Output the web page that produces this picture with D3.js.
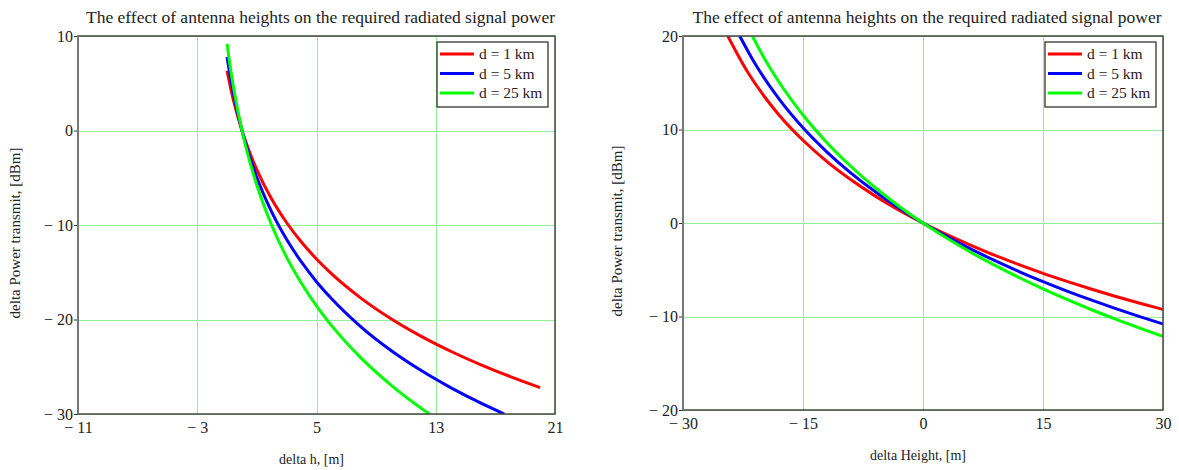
<!DOCTYPE html>
<html>
<head>
<meta charset="utf-8">
<script src="https://cdn.jsdelivr.net/npm/d3@7"></script>
<style>
  body { margin: 0; background: #fff; }
  svg text { font-family: "Liberation Serif", "Times New Roman", serif !important; fill: #222; }
</style>
</head>
<body>
<svg id="drawing_region"></svg>
<script>
const chartTitle = "The effect of antenna heights on the required radiated signal power";
const legendLabels = ["d = 1 km", "d = 5 km", "d = 25 km"];
const yLabel = "delta Power transmit, [dBm]";

// left chart: delta h
const leftXLabel = "delta h, [m]";
const leftXTicks = [-11, -3, 5, 13, 21];
const leftYTicks = [10, 0, -10, -20, -30];
const left1kmX = [-1, -0.75, -0.5, 0, 0.5, 1, 2, 3, 4, 5, 6, 8, 10, 12, 14, 16, 18, 20];
const left1kmY = [6.32, 4.41, 2.76, 0, -2.26, -4.16, -7.28, -9.76, -11.83, -13.60, -15.15, -17.76, -19.92, -21.76, -23.36, -24.77, -26.04, -27.20];
const left5kmX = [-1, -0.75, -0.5, 0, 0.5, 1, 2, 3, 4, 5, 6, 8, 10, 12, 14, 16, 17.6];
const left5kmY = [7.77, 5.39, 3.36, 0, -2.71, -4.97, -8.64, -11.54, -13.94, -16.00, -17.78, -20.80, -23.28, -25.38, -27.21, -28.83, -30.0];
const left25kmX = [-1, -0.75, -0.5, 0, 0.5, 1, 2, 3, 4, 5, 6, 8, 10, 12, 12.6];
const left25kmY = [9.17, 6.34, 3.94, 0, -3.16, -5.80, -10.05, -13.42, -16.19, -18.56, -20.62, -24.09, -26.94, -29.36, -30.02];

// right chart: delta Height
const rightXLabel = "delta Height, [m]";
const rightXTicks = [-30, -15, 0, 15, 30];
const rightYTicks = [20, 10, 0, -10, -20];
const right1kmX = [-24.4, -22, -20, -18, -15, -12, -9, -6, -3, 0, 3, 6, 9, 12, 15, 18, 21, 24, 27, 30];
const right1kmY = [20.0, 16.26, 13.72, 11.56, 8.85, 6.57, 4.62, 2.90, 1.38, 0, -1.25, -2.40, -3.47, -4.45, -5.38, -6.24, -7.06, -7.83, -8.56, -9.25];
const right5kmX = [-22.9, -21, -18, -15, -12, -9, -6, -3, 0, 3, 6, 9, 12, 15, 18, 21, 24, 27, 30];
const right5kmY = [19.99, 17.05, 13.27, 10.18, 7.59, 5.34, 3.36, 1.60, 0, -1.46, -2.80, -4.03, -5.19, -6.27, -7.28, -8.23, -9.13, -9.99, -10.80];
const right25kmX = [-21.3, -20, -18, -15, -12, -9, -6, -3, 0, 3, 6, 9, 12, 15, 18, 21, 24, 27, 30];
const right25kmY = [19.95, 17.87, 15.08, 11.55, 8.59, 6.04, 3.80, 1.80, 0, -1.64, -3.15, -4.54, -5.83, -7.04, -8.17, -9.25, -10.26, -11.21, -12.12];

const seriesColors = ["#ff0000", "#0000ff", "#00ff00"];

function zip(xs, ys) { return xs.map((x, i) => ({ x: x, y: ys[i] })); }

class LinePlot {
    constructor(config, series) {
        this.config = config;
        this.series = series;
        this.init();
    }

    init() {
        let self = this;
        const c = self.config;
        self.chart = d3.select('#drawing_region').append('g')
            .attr('transform', `translate(${c.left}, ${c.top})`);
        self.inner_width = c.width;
        self.inner_height = c.height;

        self.xscale = d3.scaleLinear()
            .domain([c.xTicks[0], c.xTicks[c.xTicks.length - 1]])
            .range([0, self.inner_width]);
        self.yscale = d3.scaleLinear()
            .domain([c.yTicks[c.yTicks.length - 1], c.yTicks[0]])
            .range([self.inner_height, 0]);
    }

    render() {
        let self = this;
        const c = self.config;
        const fmt = d => d < 0 ? "\u2212 " + Math.abs(d) : String(d);
        const serif = '"Liberation Serif", serif';

        // grid
        const xgrid = d3.axisBottom(self.xscale).tickValues(c.xTicks)
            .tickSize(-self.inner_height).tickFormat('');
        const ygrid = d3.axisLeft(self.yscale).tickValues(c.yTicks)
            .tickSize(-self.inner_width).tickFormat('');
        self.chart.append('g').attr('transform', `translate(0, ${self.inner_height})`)
            .call(xgrid).call(g => g.select('.domain').remove())
            .selectAll('line').attr('stroke', '#94f094').attr('shape-rendering', 'crispEdges');
        self.chart.append('g')
            .call(ygrid).call(g => g.select('.domain').remove())
            .selectAll('line').attr('stroke', '#94f094').attr('shape-rendering', 'crispEdges');

        // axis labels
        const xaxis = d3.axisBottom(self.xscale).tickValues(c.xTicks).tickSize(0).tickPadding(8).tickFormat(fmt);
        const yaxis = d3.axisLeft(self.yscale).tickValues(c.yTicks).tickSize(4).tickPadding(1).tickFormat(fmt);
        self.chart.append('g').attr('transform', `translate(0, ${self.inner_height})`)
            .call(xaxis)
            .attr('font-family', serif)
            .call(g => g.select('.domain').remove())
            .selectAll('text').style('font-size', '16px').style('font-family', serif);
        self.chart.append('g')
            .call(yaxis)
            .attr('font-family', serif)
            .call(g => g.select('.domain').remove())
            .call(g => g.selectAll('line').attr('stroke', '#333'))
            .selectAll('text').style('font-size', '16px').style('font-family', serif);

        // curves
        const clipId = 'clip' + c.id;
        self.chart.append('clipPath').attr('id', clipId)
            .append('rect').attr('width', self.inner_width).attr('height', self.inner_height);
        const line = d3.line()
            .x(d => self.xscale(d.x))
            .y(d => self.yscale(d.y))
            .curve(d3.curveMonotoneX);
        self.chart.append('g').attr('clip-path', `url(#${clipId})`)
            .selectAll('path').data(self.series).join('path')
            .attr('d', d => line(d.values))
            .attr('fill', 'none')
            .attr('stroke', d => d.color)
            .attr('stroke-width', 3);

        // frame
        self.chart.append('rect')
            .attr('width', self.inner_width).attr('height', self.inner_height)
            .attr('fill', 'none').attr('stroke', '#444').attr('stroke-width', 1.5);
        self.chart.append('line')
            .attr('x1', 0).attr('x2', 0).attr('y1', 0).attr('y2', self.inner_height)
            .attr('stroke', '#777').attr('stroke-width', 2);

        // title and axis titles
        self.chart.append('text')
            .attr('x', self.inner_width / 2 + 4).attr('y', -13)
            .attr('text-anchor', 'middle').style('font-size', '17.5px').attr('fill', '#111')
            .text(chartTitle);
        self.chart.append('text')
            .attr('x', self.inner_width / 2 - 5).attr('y', self.inner_height + c.xLabelDy)
            .attr('text-anchor', 'middle').style('font-size', '14px')
            .text(c.xLabel);
        self.chart.append('text')
            .attr('transform', `translate(${c.yLabelDx}, ${self.inner_height / 2 + 8}) rotate(-90)`)
            .attr('text-anchor', 'middle').style('font-size', '15px').attr('fill', '#333')
            .text(yLabel);

        // legend
        const lw = 111, lh = 65;
        const legend = self.chart.append('g')
            .attr('transform', `translate(${self.inner_width - lw - 7}, 6)`);
        legend.append('rect').attr('width', lw).attr('height', lh)
            .attr('fill', '#fff').attr('stroke', '#222').attr('stroke-width', 1.2);
        const rows = legend.selectAll('g.row').data(self.series).join('g')
            .attr('class', 'row')
            .attr('transform', (d, i) => `translate(0, ${12 + i * 19.5})`);
        rows.append('line').attr('x1', 3).attr('x2', 37)
            .attr('stroke', d => d.color).attr('stroke-width', 3);
        rows.append('text').attr('x', 42).attr('dy', '0.35em')
            .style('font-size', '15.5px').text(d => d.label);
    }
}

d3.select('#drawing_region').attr('width', 1179).attr('height', 470);

const leftSeries = [
    { label: legendLabels[0], color: seriesColors[0], values: zip(left1kmX, left1kmY) },
    { label: legendLabels[1], color: seriesColors[1], values: zip(left5kmX, left5kmY) },
    { label: legendLabels[2], color: seriesColors[2], values: zip(left25kmX, left25kmY) }
];
const rightSeries = [
    { label: legendLabels[0], color: seriesColors[0], values: zip(right1kmX, right1kmY) },
    { label: legendLabels[1], color: seriesColors[1], values: zip(right5kmX, right5kmY) },
    { label: legendLabels[2], color: seriesColors[2], values: zip(right25kmX, right25kmY) }
];

new LinePlot({ id: 'L', left: 78, top: 36, width: 477, height: 378,
    xTicks: leftXTicks, yTicks: leftYTicks, xLabel: leftXLabel,
    xLabelDy: 50, yLabelDx: -58 }, leftSeries).render();

new LinePlot({ id: 'R', left: 683, top: 36, width: 480, height: 374,
    xTicks: rightXTicks, yTicks: rightYTicks, xLabel: rightXLabel,
    xLabelDy: 50, yLabelDx: -61 }, rightSeries).render();
</script>
</body>
</html>
